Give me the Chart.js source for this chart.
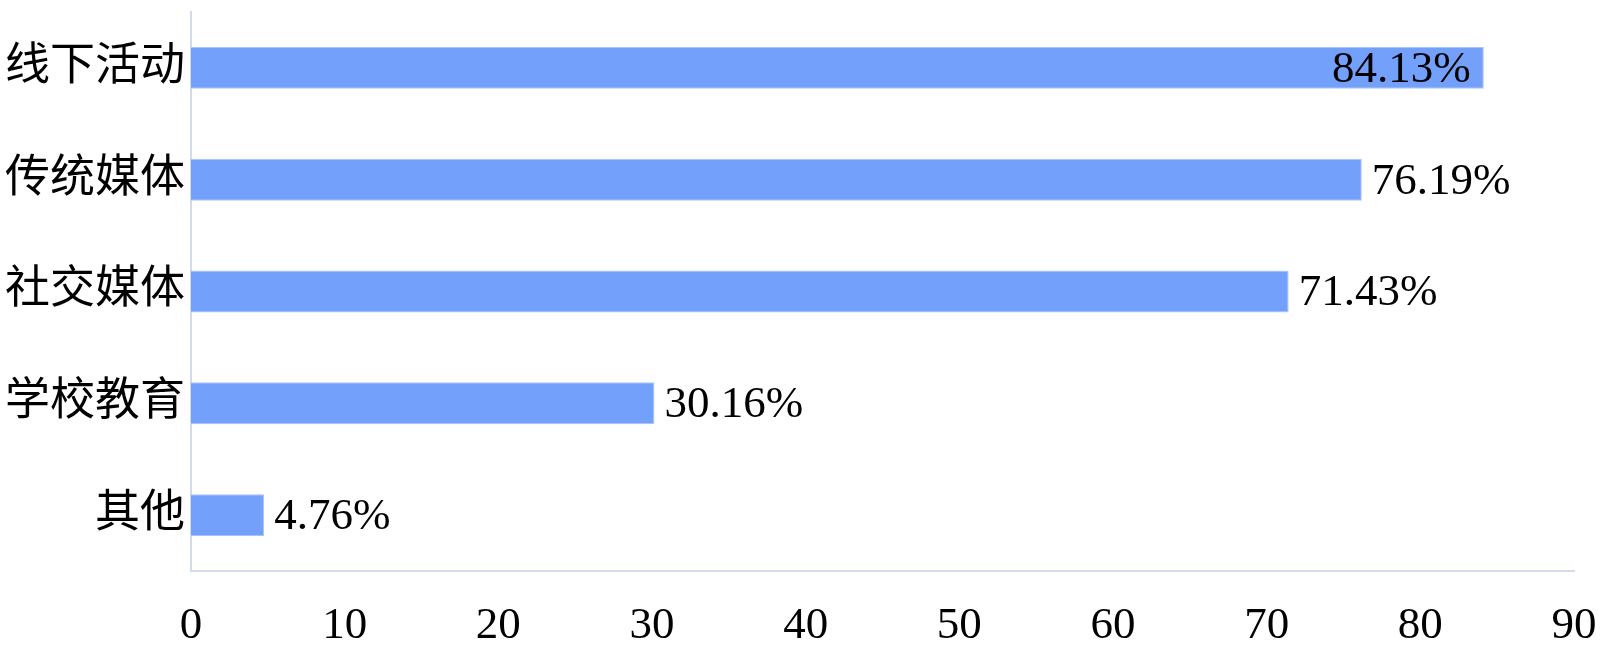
<!DOCTYPE html>
<html lang="zh">
<head>
    <meta charset="UTF-8">
    <title>渠道占比</title>
    <style>
        html, body { margin: 0; padding: 0; background: #fff; }
        #wrap { width: 1600px; height: 656px; }
    </style>
    <script src="https://cdn.jsdelivr.net/npm/chart.js"></script>
</head>
<body>
    <div id="wrap"><canvas id="barChart" width="1600" height="656"></canvas></div>
    <script>
        const categories = ['线下活动', '传统媒体', '社交媒体', '学校教育', '其他'];
        const percents = [84.13, 76.19, 71.43, 30.16, 4.76];
        const xTicks = [0, 10, 20, 30, 40, 50, 60, 70, 80, 90];

        const fontFamily = "'Liberation Serif', 'Times New Roman', 'Noto Sans CJK SC', serif";

        // value labels: outside the bar end, inside if they would run off the chart
        const valueLabels = {
            id: 'valueLabels',
            afterDatasetsDraw(chart) {
                const ctx = chart.ctx;
                const meta = chart.getDatasetMeta(0);
                ctx.save();
                ctx.font = '45px ' + fontFamily;
                ctx.fillStyle = '#000';
                ctx.textBaseline = 'middle';
                meta.data.forEach((bar, i) => {
                    const text = percents[i].toFixed(2) + '%';
                    const w = ctx.measureText(text).width;
                    if (bar.x + 12 + w > chart.width - 4) {
                        ctx.textAlign = 'right';
                        ctx.fillText(text, bar.x - 13, bar.y + 2);
                    } else {
                        ctx.textAlign = 'left';
                        ctx.fillText(text, bar.x + 10, bar.y + 2);
                    }
                });
                ctx.restore();
            }
        };

        new Chart(document.getElementById('barChart').getContext('2d'), {
            type: 'bar',
            data: {
                labels: categories,
                datasets: [{
                    data: percents,
                    backgroundColor: 'rgb(114, 160, 250)',
                    borderColor: 'rgb(168, 196, 250)',
                    borderWidth: 1,
                    barPercentage: 0.75,
                    categoryPercentage: 0.5
                }]
            },
            options: {
                indexAxis: 'y',
                responsive: false,
                animation: false,
                layout: { padding: { top: 12, right: 26, left: 0, bottom: 0 } },
                plugins: { legend: { display: false }, tooltip: { enabled: false } },
                scales: {
                    x: {
                        min: 0,
                        max: 90,
                        afterBuildTicks(scale) {
                            scale.ticks = xTicks.map(v => ({ value: v }));
                        },
                        afterFit(scale) {
                            scale.height = 85;
                            scale.paddingLeft = 0;
                            scale.paddingRight = 0;
                        },
                        grid: { display: false, drawTicks: false },
                        border: { display: true, color: '#d3daec', width: 2 },
                        ticks: {
                            color: '#000',
                            padding: 28,
                            maxRotation: 0,
                            font: { family: fontFamily, size: 45 }
                        }
                    },
                    y: {
                        afterFit(scale) {
                            scale.width = 191;
                            scale.paddingTop = 0;
                            scale.paddingBottom = 0;
                        },
                        grid: { display: false, drawTicks: false },
                        border: { display: true, color: '#d3daec', width: 2 },
                        ticks: {
                            color: '#000',
                            padding: 6,
                            font: { family: fontFamily, size: 45 }
                        }
                    }
                }
            },
            plugins: [valueLabels]
        });
    </script>
</body>
</html>
